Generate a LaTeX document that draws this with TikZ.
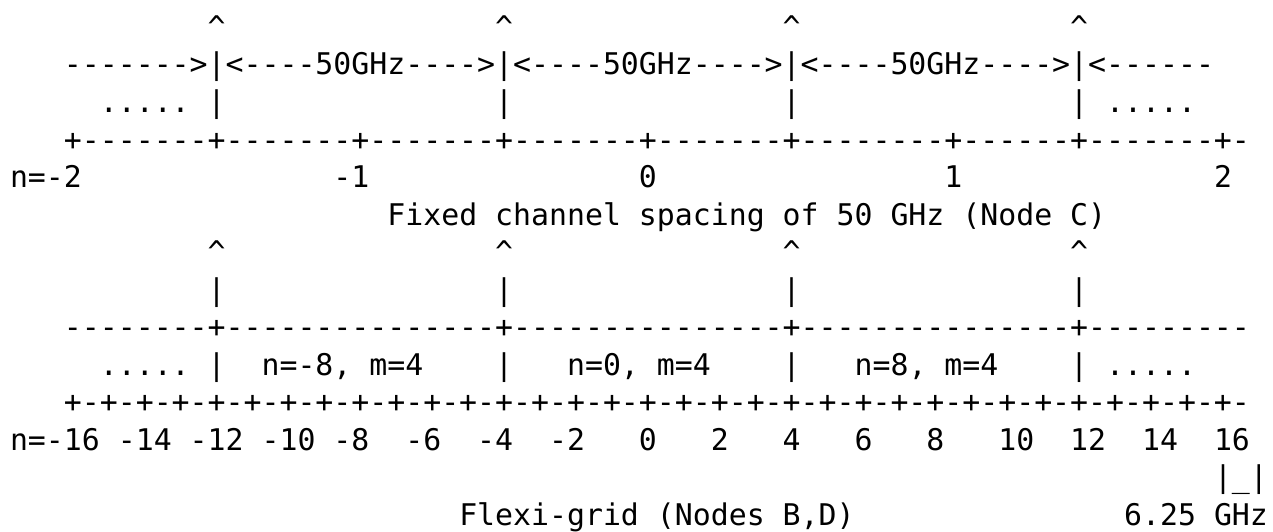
\documentclass[tikz,border=0pt]{standalone}
\usepackage{fontspec}
\setmonofont{DejaVu Sans Mono}
\frenchspacing
\tikzset{
  txt/.style={anchor=base west, inner sep=0pt, outer sep=0pt, text=black,
    font=\ttfamily\fontsize{29.85pt}{36pt}\selectfont}
}
\newcommand\gt[4]{\node[txt] (#1) at ({10+17.97*#2},{37.5*#3}) {#4};}
\begin{document}
\begin{tikzpicture}[x=1pt,y=-1pt]
\fill[white] (0,0) rectangle (1273,532);
\useasboundingbox (0,0) rectangle (1273,532);
% row 1: carets
\gt{ca1}{11}{1}{\textasciicircum}
\gt{ca2}{27}{1}{\textasciicircum}
\gt{ca3}{43}{1}{\textasciicircum}
\gt{ca4}{59}{1}{\textasciicircum}
% row 2: spacing arrows
\gt{arr}{3}{2}{------->|<----50GHz---->|<----50GHz---->|<----50GHz---->|<------}
% row 3
\gt{dl1}{5}{3}{.....}
\gt{ba1}{11}{3}{|}
\gt{ba2}{27}{3}{|}
\gt{ba3}{43}{3}{|}
\gt{ba4}{59}{3}{|}
\gt{dr1}{61}{3}{.....}
% row 4: fixed grid axis
\gt{axa}{3}{4}{+-------+-------+-------+-------+-------+--------+------+-------+-}
% row 5: labels
\gt{la1}{0}{5}{n=-2}
\gt{la2}{18}{5}{-1}
\gt{la3}{35}{5}{0}
\gt{la4}{52}{5}{1}
\gt{la5}{67}{5}{2}
% row 6: caption
\gt{capa}{21}{6}{Fixed channel spacing of 50 GHz (Node C)}
% row 7
\gt{cb1}{11}{7}{\textasciicircum}
\gt{cb2}{27}{7}{\textasciicircum}
\gt{cb3}{43}{7}{\textasciicircum}
\gt{cb4}{59}{7}{\textasciicircum}
% row 8
\gt{bb1}{11}{8}{|}
\gt{bb2}{27}{8}{|}
\gt{bb3}{43}{8}{|}
\gt{bb4}{59}{8}{|}
% row 9
\gt{lin}{3}{9}{--------+---------------+---------------+---------------+---------}
% row 10
\gt{dl2}{5}{10}{.....}
\gt{bc1}{11}{10}{|}
\gt{sl1}{14}{10}{n=-8, m=4}
\gt{bc2}{27}{10}{|}
\gt{sl2}{31}{10}{n=0, m=4}
\gt{bc3}{43}{10}{|}
\gt{sl3}{47}{10}{n=8, m=4}
\gt{bc4}{59}{10}{|}
\gt{dr2}{61}{10}{.....}
% row 11: flexi grid axis
\gt{axb}{3}{11}{+-+-+-+-+-+-+-+-+-+-+-+-+-+-+-+-+-+-+-+-+-+-+-+-+-+-+-+-+-+-+-+-+-}
% row 12: labels
\gt{lb1}{0}{12}{n=-16}
\gt{lb2}{6}{12}{-14}
\gt{lb3}{10}{12}{-12}
\gt{lb4}{14}{12}{-10}
\gt{lb5}{18}{12}{-8}
\gt{lb6}{22}{12}{-6}
\gt{lb7}{26}{12}{-4}
\gt{lb8}{30}{12}{-2}
\gt{lb9}{35}{12}{0}
\gt{lb10}{39}{12}{2}
\gt{lb11}{43}{12}{4}
\gt{lb12}{47}{12}{6}
\gt{lb13}{51}{12}{8}
\gt{lb14}{55}{12}{10}
\gt{lb15}{59}{12}{12}
\gt{lb16}{63}{12}{14}
\gt{lb17}{67}{12}{16}
% row 13
\gt{slot}{67}{13}{|\_|}
% row 14
\gt{capb}{25}{14}{Flexi-grid (Nodes B,D)}
\gt{gran}{62}{14}{6.25 GHz}
\end{tikzpicture}
\end{document}
